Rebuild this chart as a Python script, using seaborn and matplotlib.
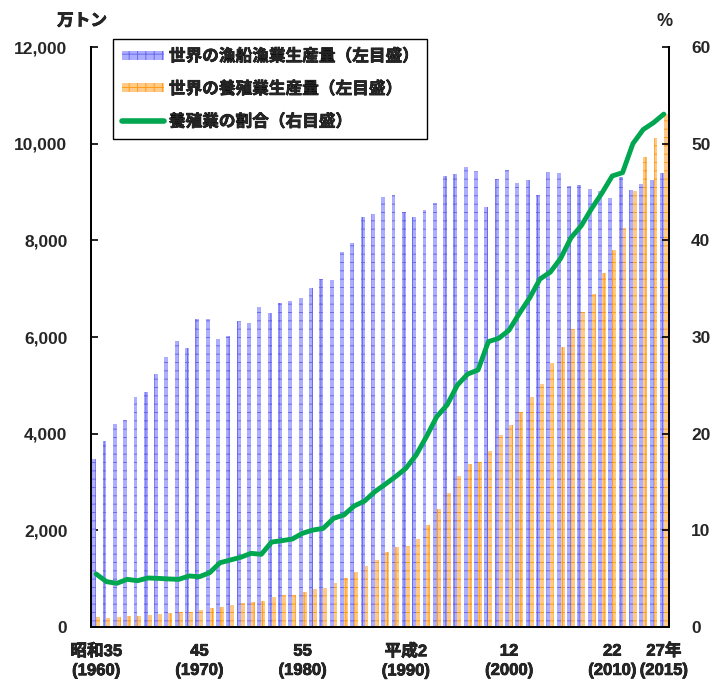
import numpy as np
import pandas as pd
import matplotlib
matplotlib.use("Agg")
import matplotlib.pyplot as plt
import matplotlib.patheffects as pe
from matplotlib.patches import Patch
from matplotlib.lines import Line2D
import seaborn as sns

# 年次 (1960-2015)
years = list(range(1960, 2016))

# 世界の漁船漁業生産量 (万トン)
capture = [3480, 3850, 4200, 4285, 4760, 4865, 5240, 5590, 5920, 5775,
           6375, 6375, 5960, 6025, 6335, 6290, 6625, 6500, 6707, 6750,
           6810, 7017, 7204, 7183, 7763, 7949, 8487, 8549, 8901, 8942,
           8590, 8487, 8632, 8777, 9336, 9377, 9522, 9439, 8694, 9274,
           9460, 9195, 9238, 8946, 9418, 9383, 9126, 9148, 9070, 9026,
           8877, 9312, 9048, 9170, 9238, 9383]

# 世界の養殖業生産量 (万トン)
aquaculture = [200, 180, 200, 228, 228, 242, 262, 290, 310, 310,
               352, 393, 414, 455, 497, 518, 538, 621, 662, 662,
               725, 787, 807, 911, 1014, 1139, 1263, 1387, 1553, 1656,
               1677, 1822, 2111, 2442, 2774, 3126, 3374, 3416, 3643, 3966,
               4173, 4444, 4763, 5026, 5455, 5797, 6159, 6507, 6884, 7319,
               7810, 8265, 9015, 9719, 10110, 10621]

# 養殖業の割合 (%)
share = [5.48, 4.69, 4.52, 4.93, 4.79, 5.07, 5.03, 4.97, 4.93, 5.28,
         5.2, 5.62, 6.65, 6.93, 7.21, 7.62, 7.52, 8.79, 8.93, 9.1,
         9.7, 10.03, 10.2, 11.24, 11.59, 12.52, 13.03, 14.0, 14.76, 15.55,
         16.41, 17.79, 19.69, 21.76, 22.97, 25.03, 26.17, 26.59, 29.52, 29.86,
         30.7, 32.44, 34.04, 36.0, 36.71, 38.13, 40.26, 41.51, 43.28, 44.88,
         46.66, 47.0, 50.0, 51.46, 52.17, 53.06]

series_names = ["世界の漁船漁業生産量（左目盛）", "世界の養殖業生産量（左目盛）"]
line_name = "養殖業の割合（右目盛）"

tick_years = [1960, 1970, 1980, 1990, 2000, 2010, 2015]
tick_labels = ["昭和35\n(1960)", "45\n(1970)", "55\n(1980)", "平成2\n(1990)",
               "12\n(2000)", "22\n(2010)", "27年\n(2015)"]

left_ticks = [0, 2000, 4000, 6000, 8000, 10000, 12000]
right_ticks = [0, 10, 20, 30, 40, 50, 60]

# colours
blue_fill, blue_hatch = "#AEAEFF", "#6A6AEE"
orange_fill, orange_hatch = "#FFCA88", "#FF9C1A"
green = "#00A650"

sns.set_style("white")
plt.rcParams["font.family"] = ["Liberation Sans", "Noto Sans CJK JP"]
plt.rcParams["font.weight"] = "bold"
plt.rcParams["hatch.linewidth"] = 0.7

heavy = [pe.withStroke(linewidth=0.5, foreground="black")]

df = pd.DataFrame({
    "年": [str(y) for y in years] * 2,
    "生産量": capture + aquaculture,
    "区分": [series_names[0]] * len(years) + [series_names[1]] * len(years),
})

fig = plt.figure(figsize=(7.21, 6.80), dpi=100)
ax = fig.add_axes([91 / 721, 1 - 627 / 680, (669 - 91) / 721, (627 - 47) / 680])

sns.barplot(data=df, x="年", y="生産量", hue="区分", hue_order=series_names,
            palette=[blue_fill, orange_fill], saturation=1, width=0.76,
            dodge=True, errorbar=None, legend=False, linewidth=0, ax=ax)

for cont, hcol in zip(ax.containers, [blue_hatch, orange_hatch]):
    for bar in cont:
        bar.set_hatch("++")
        bar.set_edgecolor(hcol)
        bar.set_linewidth(0)

ax2 = ax.twinx()
sns.lineplot(x=np.arange(len(years)), y=share, color=green, linewidth=3.5,
             ax=ax2, legend=False)
ax2.lines[0].set_solid_joinstyle("round")

n = len(years)
ax.set_xlim(-0.5, n - 0.5)
ax.set_ylim(0, 12000)
ax2.set_ylim(0, 60)
ax.set_xlabel("")
ax.set_ylabel("")
ax2.set_ylabel("")

ax.set_yticks(left_ticks)
ax.set_yticklabels([f"{v:,}" for v in left_ticks])
ax2.set_yticks(right_ticks)
ax2.set_yticklabels([str(v) for v in right_ticks])

pos = [years.index(y) for y in tick_years]
ax.set_xticks(pos)
ax.set_xticklabels(tick_labels, linespacing=1.35)
ax.set_xticks([p - 0.5 for p in range(0, 51, 10)], minor=True)

ax.tick_params(axis="x", which="major", length=0, pad=12, labelsize=12)
ax.tick_params(axis="x", which="minor", length=5, width=1.2, direction="out",
               color="black")
ax.tick_params(axis="y", length=5, width=1.2, direction="in", pad=17,
               labelsize=12.5, left=True, color="black")
ax2.tick_params(axis="y", length=5, width=1.2, direction="in", pad=16,
                labelsize=12.5, right=True, color="black")

for a in (ax, ax2):
    a.spines["top"].set_visible(False)
    for s in ("left", "right", "bottom"):
        a.spines[s].set_color("black")
        a.spines[s].set_linewidth(1.3)
    for lab in a.get_xticklabels() + a.get_yticklabels():
        lab.set_fontweight("bold")
for lab in ax.get_xticklabels():
    lab.set_path_effects(heavy)

fig.text(82 / 721, 1 - 21 / 680, "万トン", ha="center", va="center",
         fontsize=12, fontweight="bold", path_effects=heavy)
fig.text(665 / 721, 1 - 21 / 680, "%", ha="center", va="center",
         fontsize=13, fontweight="bold")

handles = [
    Patch(facecolor=blue_fill, edgecolor=blue_hatch, hatch="++", linewidth=0),
    Patch(facecolor=orange_fill, edgecolor=orange_hatch, hatch="++", linewidth=0),
    Line2D([], [], color=green, linewidth=4),
]
leg = fig.legend(handles, series_names + [line_name],
                 loc="upper left", bbox_to_anchor=(113 / 721, 1 - 39 / 680),
                 borderaxespad=0, frameon=True, fancybox=False,
                 edgecolor="black", framealpha=1,
                 handlelength=2.5, handleheight=0.45, handletextpad=0.3,
                 labelspacing=1.0, borderpad=0.55,
                 prop={"weight": "bold", "size": 12})
leg.get_frame().set_linewidth(1.0)
for t in leg.get_texts():
    t.set_path_effects(heavy)

fig.savefig("out.png", dpi=100, facecolor="white")
